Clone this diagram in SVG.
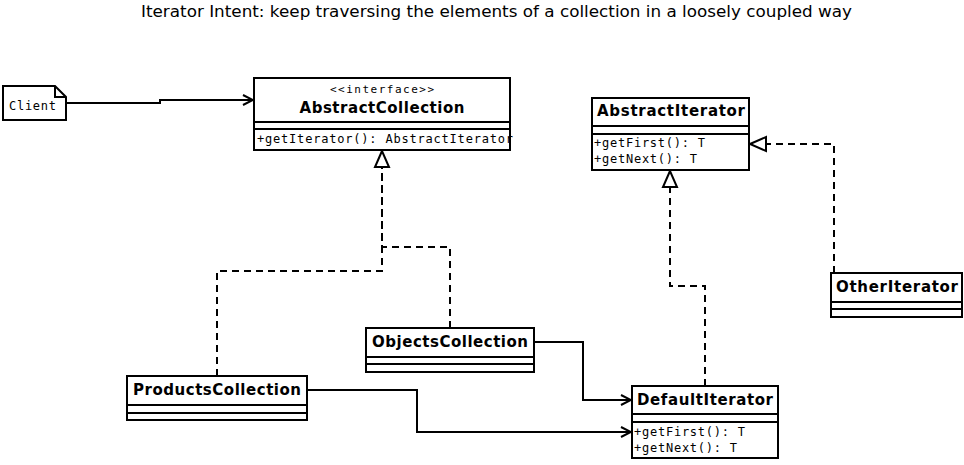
<svg xmlns="http://www.w3.org/2000/svg" width="964" height="465" viewBox="0 0 964 465">
<style>
.box{fill:#fff;stroke:#000;stroke-width:2}
.ln{stroke:#000;stroke-width:2;fill:none}
.dash{stroke:#000;stroke-width:2;fill:none;stroke-dasharray:7 5}
.tri{fill:#fff;stroke:#000;stroke-width:2}
.title{font-family:"DejaVu Sans",sans-serif;font-size:15px;fill:#000}
.name{font-family:"DejaVu Sans",sans-serif;font-weight:bold;font-size:15px;fill:#000;text-anchor:middle}
.mono{font-family:"DejaVu Sans Mono",monospace;font-size:12px;fill:#000}
.ster{font-family:"DejaVu Sans Mono",monospace;font-size:11px;fill:#000;text-anchor:middle}
</style>
<defs>
<marker id="open" markerWidth="12" markerHeight="12" refX="11" refY="6" orient="auto" markerUnits="userSpaceOnUse">
<path d="M1,1 L11,6 L1,11" fill="none" stroke="#000" stroke-width="2"/>
</marker>
</defs>
<rect width="964" height="465" fill="#fff"/>
<text class="title" x="141" y="17" textLength="711" lengthAdjust="spacingAndGlyphs">Iterator Intent: keep traversing the elements of a collection in a loosely coupled way</text>

<g id="connectors">
<path class="ln" d="M66,103 H160 V100 H253" marker-end="url(#open)"/>
<path class="dash" d="M217,376 V271 H382 V167"/>
<path class="dash" d="M450,328 V247 H382 V167"/>
<polygon class="tri" points="382,151 375,167 389,167"/>
<path class="dash" d="M705,386 V286 H670 V187"/>
<polygon class="tri" points="670,171 663,187 677,187"/>
<path class="dash" d="M834,273 V144 H766"/>
<polygon class="tri" points="750,144 766,137 766,151"/>
<path class="ln" d="M534,342 H583 V400 H631" marker-end="url(#open)"/>
<path class="ln" d="M307,390 H417 V432 H631" marker-end="url(#open)"/>
</g>

<g id="client">
<path class="box" d="M3,86 H55 L66,97 V120 H3 Z"/>
<path class="ln" d="M55,86 V97 H66"/>
<text class="mono" x="9" y="110" font-size="11" textLength="47" lengthAdjust="spacing">Client</text>
</g>

<g id="abstractcollection">
<rect class="box" x="254" y="78" width="256" height="72"/>
<line class="ln" x1="254" y1="122" x2="510" y2="122"/>
<line class="ln" x1="254" y1="129" x2="510" y2="129"/>
<text class="ster" x="382" y="93" textLength="104" lengthAdjust="spacing">&lt;&lt;interface&gt;&gt;</text>
<text class="name" x="382" y="113" textLength="165" lengthAdjust="spacing">AbstractCollection</text>
<text class="mono" x="257" y="143" textLength="256" lengthAdjust="spacing">+getIterator(): AbstractIterator</text>
</g>

<g id="abstractiterator">
<rect class="box" x="592" y="98" width="157" height="72"/>
<line class="ln" x1="592" y1="126" x2="749" y2="126"/>
<line class="ln" x1="592" y1="134" x2="749" y2="134"/>
<text class="name" x="671" y="116" textLength="148" lengthAdjust="spacing">AbstractIterator</text>
<text class="mono" x="594" y="147" textLength="111" lengthAdjust="spacing">+getFirst(): T</text>
<text class="mono" x="594" y="163" textLength="103" lengthAdjust="spacing">+getNext(): T</text>
</g>

<g id="otheriterator">
<rect class="box" x="831" y="273" width="131" height="44"/>
<line class="ln" x1="831" y1="302" x2="962" y2="302"/>
<line class="ln" x1="831" y1="309" x2="962" y2="309"/>
<text class="name" x="897" y="292" textLength="122" lengthAdjust="spacing">OtherIterator</text>
</g>

<g id="objectscollection">
<rect class="box" x="366" y="328" width="168" height="44"/>
<line class="ln" x1="366" y1="357" x2="534" y2="357"/>
<line class="ln" x1="366" y1="364" x2="534" y2="364"/>
<text class="name" x="450" y="347" textLength="156" lengthAdjust="spacing">ObjectsCollection</text>
</g>

<g id="productscollection">
<rect class="box" x="127" y="376" width="180" height="44"/>
<line class="ln" x1="127" y1="405" x2="307" y2="405"/>
<line class="ln" x1="127" y1="413" x2="307" y2="413"/>
<text class="name" x="217" y="395" textLength="168" lengthAdjust="spacing">ProductsCollection</text>
</g>

<g id="defaultiterator">
<rect class="box" x="632" y="386" width="146" height="72"/>
<line class="ln" x1="632" y1="414" x2="778" y2="414"/>
<line class="ln" x1="632" y1="422" x2="778" y2="422"/>
<text class="name" x="705" y="405" textLength="136" lengthAdjust="spacing">DefaultIterator</text>
<text class="mono" x="634" y="436" textLength="111" lengthAdjust="spacing">+getFirst(): T</text>
<text class="mono" x="634" y="452" textLength="103" lengthAdjust="spacing">+getNext(): T</text>
</g>
</svg>
